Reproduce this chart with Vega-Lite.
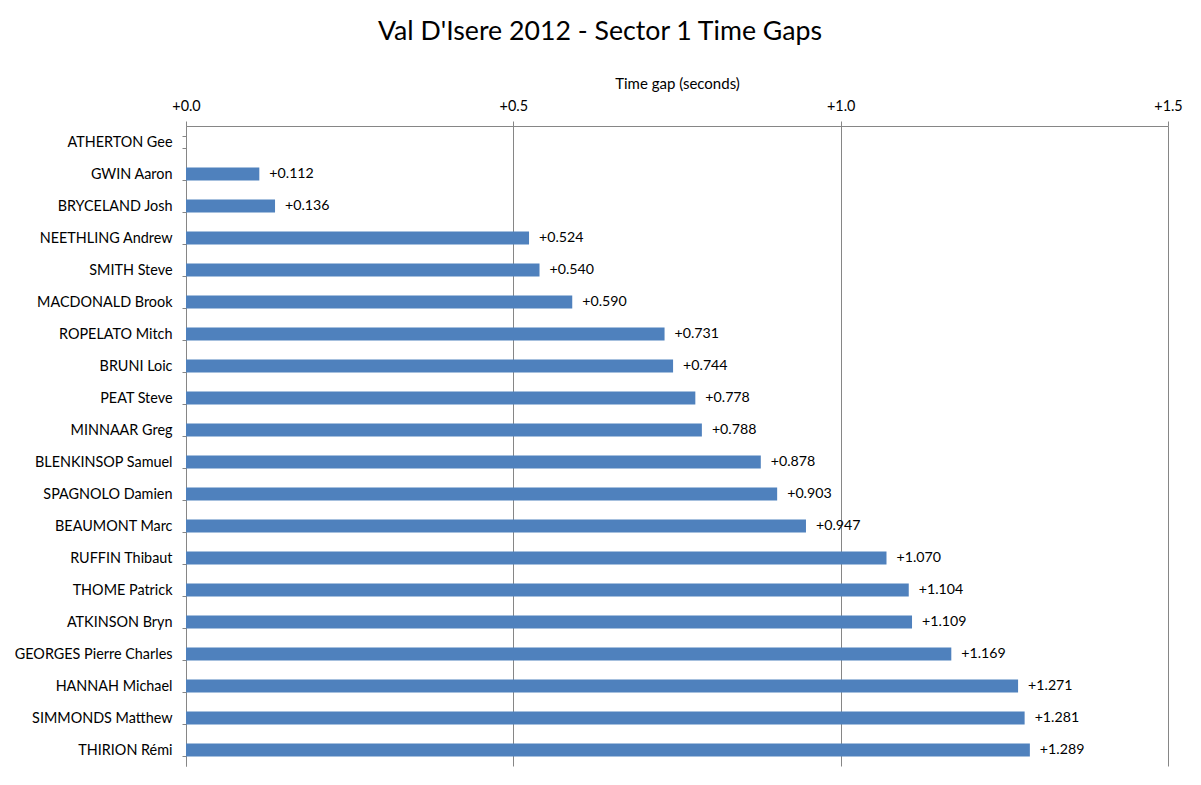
{
  "$schema": "https://vega.github.io/schema/vega-lite/v6.json",
  "width": 982,
  "height": 640,
  "autosize": {"type": "none"},
  "padding": {"left": 186, "top": 126, "right": 33, "bottom": 19},
  "background": "white",
  "title": {
    "text": "Val D'Isere 2012 - Sector 1 Time Gaps",
    "font": "Lato",
    "fontSize": 26.7,
    "fontWeight": "normal",
    "color": "black",
    "anchor": "middle",
    "dx": -77,
    "offset": 30
  },
  "data": {
    "values": [
      {"rider": "ATHERTON Gee", "gap": 0.0},
      {"rider": "GWIN Aaron", "gap": 0.112},
      {"rider": "BRYCELAND Josh", "gap": 0.136},
      {"rider": "NEETHLING Andrew", "gap": 0.524},
      {"rider": "SMITH Steve", "gap": 0.540},
      {"rider": "MACDONALD Brook", "gap": 0.590},
      {"rider": "ROPELATO Mitch", "gap": 0.731},
      {"rider": "BRUNI Loic", "gap": 0.744},
      {"rider": "PEAT Steve", "gap": 0.778},
      {"rider": "MINNAAR Greg", "gap": 0.788},
      {"rider": "BLENKINSOP Samuel", "gap": 0.878},
      {"rider": "SPAGNOLO Damien", "gap": 0.903},
      {"rider": "BEAUMONT Marc", "gap": 0.947},
      {"rider": "RUFFIN Thibaut", "gap": 1.070},
      {"rider": "THOME Patrick", "gap": 1.104},
      {"rider": "ATKINSON Bryn", "gap": 1.109},
      {"rider": "GEORGES Pierre Charles", "gap": 1.169},
      {"rider": "HANNAH Michael", "gap": 1.271},
      {"rider": "SIMMONDS Matthew", "gap": 1.281},
      {"rider": "THIRION Rémi", "gap": 1.289}
    ]
  },
  "encoding": {
    "y": {
      "field": "rider",
      "type": "nominal",
      "sort": null,
      "scale": {"paddingInner": 0.6},
      "axis": {
        "title": null,
        "grid": false,
        "tickBand": "extent",
        "tickSize": 4,
        "labelPadding": 10,
        "labelFont": "Lato",
        "labelFontSize": 14.4,
        "labelColor": "black",
        "domainColor": "#868686",
        "tickColor": "#868686"
      }
    },
    "x": {
      "field": "gap",
      "type": "quantitative",
      "scale": {"domain": [0, 1.5], "nice": false},
      "axis": {
        "orient": "top",
        "title": "Time gap (seconds)",
        "titleFont": "Lato",
        "titleFontSize": 15,
        "titleFontWeight": "normal",
        "titleColor": "black",
        "titlePadding": 7,
        "values": [0, 0.5, 1.0, 1.5],
        "format": "+.1f",
        "labelFlush": false,
        "labelFont": "Lato",
        "labelFontSize": 14.4,
        "labelColor": "black",
        "labelPadding": 8,
        "tickSize": 5,
        "grid": true,
        "gridColor": "#868686",
        "domainColor": "#868686",
        "tickColor": "#868686"
      }
    }
  },
  "layer": [
    {"mark": {"type": "bar", "color": "#4F81BD"}},
    {
      "transform": [{"filter": "datum.gap > 0"}],
      "mark": {"type": "text", "align": "left", "baseline": "middle", "dx": 10, "font": "Lato", "fontSize": 14.2, "color": "black"},
      "encoding": {"text": {"field": "gap", "type": "quantitative", "format": "+.3f"}}
    }
  ],
  "config": {"view": {"stroke": null}}
}
